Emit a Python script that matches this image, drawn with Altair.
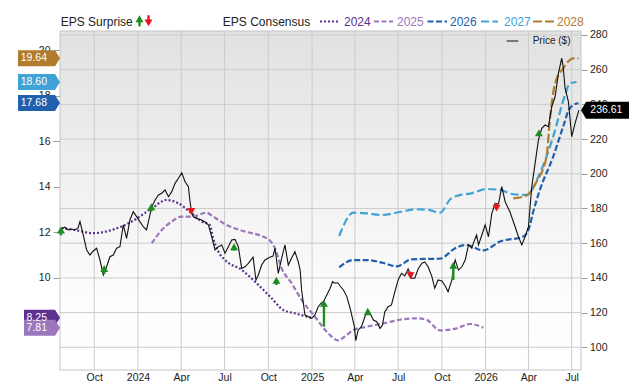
import altair as alt
import pandas as pd

# ---------------- data ----------------
BASE_DATE = "2023-10-01"  # all *_day lists are day offsets from this date

price_day = [-70, -62, -55, -48, -41, -34, -30, -23, -16, -9,
             -2, 5, 12, 19, 26, 33, 40, 47, 54, 61,
             68, 75, 82, 89, 96, 103, 110, 117, 121, 128,
             135, 142, 149, 156, 163, 170, 177, 184, 191, 198,
             201, 205, 208, 215, 226, 233, 240, 247, 254, 261,
             268, 275, 282, 289, 296, 303, 310, 317, 324, 334,
             340, 345, 352, 359, 369, 376, 380, 387, 394, 401,
             408, 415, 422, 429, 433, 436, 443, 450, 457, 464,
             471, 477, 482, 489, 496, 501, 506, 512, 517, 524,
             531, 538, 547, 550, 555, 562, 569, 575, 580, 587,
             594, 601, 606, 611, 618, 625, 632, 639, 646, 653,
             660, 667, 674, 681, 689, 695, 702, 710, 716, 723,
             731, 738, 744, 752, 755, 759, 766, 773, 780, 787,
             794, 797, 804, 808, 815, 822, 829, 836, 843, 850,
             857, 864, 874, 885, 892, 899, 906, 913, 920, 927,
             934, 941, 948, 955, 962, 969, 976, 983, 986, 990,
             997, 1004, 1011, 1019]
price_usd = [168.2, 169.2, 167.6, 168.2, 167.6, 168.8, 172.4, 164.7, 156.1, 153.2,
             155.5, 157.1, 150.3, 141.7, 146.4, 152.2, 153.2, 157.1, 158.0, 170.5,
             162.8, 173.4, 178.1, 175.3, 172.4, 169.5, 167.6, 176.2, 181.0, 184.9,
             187.8, 188.8, 190.7, 186.8, 189.7, 194.5, 197.4, 200.6, 195.4, 192.6,
             184.9, 177.2, 175.3, 174.3, 173.4, 172.2, 170.5, 163.7, 156.1, 158.0,
             159.0, 154.2, 158.0, 161.8, 162.2, 158.0, 145.5, 146.4, 148.4, 151.9,
             138.8, 141.7, 147.4, 150.3, 151.9, 152.6, 157.1, 142.6, 151.3, 159.0,
             147.4, 151.5, 155.1, 149.2, 144.5, 133.0, 118.6, 117.6, 116.7, 118.6,
             123.4, 125.4, 126.3, 130.1, 134.0, 137.8, 136.9, 137.2, 135.3, 133.0,
             129.2, 122.5, 111.9, 103.8, 110.0, 111.9, 117.6, 121.9, 119.6, 115.7,
             114.7, 110.9, 112.8, 120.5, 123.4, 124.4, 131.9, 138.8, 142.6, 141.1,
             145.1, 139.8, 139.8, 145.1, 148.4, 149.2, 146.4, 140.7, 134.0, 138.8,
             138.2, 135.3, 132.0, 138.8, 145.5, 150.3, 144.5, 146.4, 150.3, 159.0,
             157.1, 159.9, 164.7, 159.0, 164.7, 170.5, 163.7, 177.2, 183.0, 182.6,
             192.6, 183.9, 178.1, 169.5, 163.7, 159.0, 163.7, 169.5, 192.6, 206.0,
             219.5, 226.2, 228.1, 227.1, 238.7, 244.4, 257.9, 266.6, 261.7, 249.3,
             241.6, 221.4, 229.1, 236.61]
assert len(price_day) == len(price_usd)

eps2024_day = [-69, -41, -2, 37, 79, 121, 152, 177, 205, 226, 243, 250, 261, 275,
               310, 338, 373, 397, 422, 443, 456]
eps2024 = [12.18, 12.10, 11.96, 12.10, 12.47, 13.05, 13.42, 13.27, 12.83, 12.47, 12.32,
           11.74, 11.15, 10.78, 10.35, 9.83, 9.10, 8.59, 8.44, 8.32, 8.25]

eps2025_day = [121, 142, 163, 184, 208, 236, 250, 278, 306, 366, 380, 394, 415, 436,
               464, 492, 513, 527, 545, 573, 608, 650, 678, 699, 727, 762, 790, 818]
eps2025 = [11.52, 12.10, 12.47, 12.69, 12.69, 12.86, 12.69, 12.32, 12.10, 11.69, 11.30,
           10.42, 9.76, 9.03, 8.29, 7.56, 7.25, 7.42, 7.71, 7.85, 8.00, 8.18, 8.22, 8.15,
           7.69, 7.78, 7.97, 7.81]

eps2026_day = [515, 545, 573, 608, 636, 667, 699, 727, 759, 783, 818, 853, 902, 913,
               923, 937, 965, 986, 1000, 1018]
eps2026 = [10.46, 10.78, 10.78, 10.65, 10.50, 10.81, 10.83, 10.84, 11.30, 11.44, 11.20,
           11.59, 11.81, 12.10, 12.90, 13.86, 15.32, 16.64, 17.45, 17.68]

eps2027_day = [515, 545, 573, 604, 645, 675, 703, 727, 749, 770, 791, 825, 853, 881,
               909, 937, 965, 990, 1000, 1014]
eps2027 = [11.84, 12.86, 12.83, 12.76, 12.90, 13.01, 12.98, 12.86, 13.46, 13.64, 13.70,
           13.90, 13.86, 13.67, 13.64, 14.59, 16.20, 18.03, 18.54, 18.60]

eps2028_day = [881, 909, 930, 951, 958, 969, 986, 1007, 1018]
eps2028 = [13.49, 13.61, 14.22, 15.32, 16.93, 18.54, 19.20, 19.64, 19.64]

surprise_day = [-70, 21, 120, 204, 294, 383, 483, 575, 665, 755, 846, 935]
surprise_dir = ["up", "up", "up", "down", "up", "up", "up", "up", "down", "up", "down", "up"]
surprise_top = [169.6, 147.4, 183.0, 180.1, 160.0, 140.7, 127.3, 122.5, 143.6, 149.3, 183.0, 225.6]
surprise_bottom = [164.5, 142.2, 178.2, 176.2, 155.7, 135.9, 111.9, 118.6, 139.2, 138.8, 178.2, 221.8]

years = ["2024", "2025", "2026", "2027", "2028"]
year_colors = ["#5d3190", "#9c77bb", "#2160ad", "#3fa3d5", "#b27c2e"]
year_dash = [[2, 2], [5, 2.5], [6, 2.5], [8, 3.5], [9, 3]]
eps_days = [eps2024_day, eps2025_day, eps2026_day, eps2027_day, eps2028_day]
eps_vals = [eps2024, eps2025, eps2026, eps2027, eps2028]

tag_labels = ["19.64", "18.60", "17.68", "8.25", "7.81"]
tag_values = [19.64, 18.60, 17.68, 8.25, 7.81]
tag_colors = ["#b27c2e", "#3fa3d5", "#2160ad", "#5d3190", "#9c77bb"]
last_price = 236.61
last_price_label = "236.61"

quarter_ticks = ["2023-10-01", "2024-01-01", "2024-04-01", "2024-07-01", "2024-10-01",
                 "2025-01-01", "2025-04-01", "2025-07-01", "2025-10-01", "2026-01-01",
                 "2026-04-01", "2026-07-01"]
price_ticks = [100, 120, 140, 160, 180, 200, 220, 240, 260, 280]
eps_ticks = [10, 12, 14, 16, 18, 20]

# ---------------- layout / style ----------------
FONT = "Liberation Sans"
W, H = 521, 339
GREEN = "#1e8c1e"
RED = "#e8151b"
GRID = "#cccccc"
LEG_Y = -9.5


def to_dates(days):
    return pd.Timestamp(BASE_DATE) + pd.to_timedelta(days, unit="D")


x_scale = alt.Scale(domain=[alt.DateTime(year=2023, month=7, date=21),
                            alt.DateTime(year=2026, month=7, date=20, hours=12)], nice=False)
x_axis = alt.Axis(values=[alt.DateTime(year=int(d[:4]), month=int(d[5:7]), date=1) for d in quarter_ticks],
                  labelExpr="month(datum.value) == 0 ? timeFormat(datum.value, '%Y') : timeFormat(datum.value, '%b')",
                  ticks=False, domain=False, grid=False, labelPadding=2, labelFontSize=10.5,
                  labelColor="#222222", labelOverlap=False)


def xe():
    return alt.X("date:T", scale=x_scale, axis=x_axis, title=None)


eps_scale = alt.Scale(domain=[5.95, 20.84], nice=False, zero=False)
eps_axis = alt.Axis(orient="left", values=eps_ticks, grid=False, domain=False, tickSize=7,
                    tickColor="#9a9a9a", labelPadding=3, labelFontSize=10.5,
                    labelColor="#222222", labelOverlap=False)


def ye(field):
    return alt.Y(f"{field}:Q", scale=eps_scale, axis=eps_axis, title=None)


price_scale = alt.Scale(domain=[86.9, 282.3], nice=False, zero=False)
price_axis = alt.Axis(orient="right", values=price_ticks, grid=False, domain=False, tickSize=6,
                      tickColor="#9a9a9a", labelPadding=2.5, labelFontSize=10.5,
                      labelColor="#222222", labelOverlap=False)


def yp(field):
    return alt.Y(f"{field}:Q", scale=price_scale, axis=price_axis, title=None)


one = pd.DataFrame({"k": [0]})

# background with gradient + frame
gradient = alt.Gradient(gradient="linear",
                        stops=[alt.GradientStop(color="#e1e1e1", offset=0),
                               alt.GradientStop(color="#fdfdfd", offset=0.8),
                               alt.GradientStop(color="#ffffff", offset=1)],
                        x1=0, x2=0, y1=0, y2=1)
bg = alt.Chart(one).mark_rect(fill=gradient, stroke="#c4c4c4", strokeWidth=1).encode(
    x=alt.value(0), x2=alt.value(W), y=alt.value(0), y2=alt.value(H))

vgrid = alt.Chart(pd.DataFrame({"date": pd.to_datetime(quarter_ticks)})).mark_rule(
    color=GRID, strokeWidth=1).encode(x=xe())
hgrid = alt.Chart(pd.DataFrame({"price": price_ticks})).mark_rule(
    color=GRID, strokeWidth=1).encode(y=alt.Y("price:Q", scale=price_scale, axis=None))

# EPS consensus lines (left axis)
eps_layers = []
for yr, days, vals, col, dash in zip(years, eps_days, eps_vals, year_colors, year_dash):
    df = pd.DataFrame({"date": to_dates(days), "eps": vals})
    eps_layers.append(alt.Chart(df).mark_line(color=col, strokeDash=dash, strokeWidth=2.2,
                                              interpolate="monotone").encode(x=xe(), y=ye("eps")))

LONG_TAG = "M-1,-0.381L0.762,-0.381L1,0L0.762,0.381L-1,0.381Z"
SHORT_TAG = "M-0.714,-0.381L0.762,-0.381L1,0L0.762,0.381L-0.714,0.381Z"
tag_df = pd.DataFrame({"eps": tag_values, "label": tag_labels, "color": tag_colors})
tag_df["shape"] = [LONG_TAG if len(s) > 4 else SHORT_TAG for s in tag_labels]
tags = alt.Chart(tag_df).mark_point(filled=True, size=1764, opacity=1, strokeWidth=0).encode(
    x=alt.value(-21), y=ye("eps"),
    color=alt.Color("color:N", scale=None), shape=alt.Shape("shape:N", scale=None))
tag_text = alt.Chart(tag_df).mark_text(align="right", baseline="middle", color="white",
                                       fontSize=10.5).encode(
    x=alt.value(-13), y=ye("eps"), text="label:N")

eps_group = alt.layer(*eps_layers, tags, tag_text)

# price (right axis)
price_df = pd.DataFrame({"date": to_dates(price_day), "price": price_usd})
price_line = alt.Chart(price_df).mark_line(color="#111111", strokeWidth=1.1).encode(
    x=xe(), y=yp("price"))

sur_df = pd.DataFrame({"date": to_dates(surprise_day), "dir": surprise_dir,
                       "top": surprise_top, "bottom": surprise_bottom})
up_df = sur_df[sur_df["dir"] == "up"]
down_df = sur_df[sur_df["dir"] == "down"]
up_stem = alt.Chart(up_df).mark_rule(color=GREEN, strokeWidth=2.4, yOffset=4).encode(
    x=xe(), y=yp("top"), y2="bottom:Q")
up_head = alt.Chart(up_df).mark_point(shape="triangle-up", filled=True, size=64, opacity=1,
                                      color=GREEN, yOffset=3.5).encode(x=xe(), y=yp("top"))
down_stem = alt.Chart(down_df).mark_rule(color=RED, strokeWidth=2.4, y2Offset=-4).encode(
    x=xe(), y=yp("top"), y2="bottom:Q")
down_head = alt.Chart(down_df).mark_point(shape="triangle-down", filled=True, size=64, opacity=1,
                                          color=RED, yOffset=-3.5).encode(x=xe(), y=yp("bottom"))

PRICE_TAG = "M-1,0L-0.79,-0.354L1,-0.354L1,0.354L-0.79,0.354Z"
ptag_df = pd.DataFrame({"price": [last_price], "label": [last_price_label]})
ptag = alt.Chart(ptag_df).mark_point(shape=PRICE_TAG, filled=True, size=2304, opacity=1,
                                     color="#000000", strokeWidth=0).encode(
    x=alt.value(W + 24), y=yp("price"))
ptag_text = alt.Chart(ptag_df).mark_text(align="left", baseline="middle", color="white",
                                         fontSize=10.5).encode(
    x=alt.value(W + 9.3), y=yp("price"), text="label:N")

price_group = alt.layer(price_line, up_stem, up_head, down_stem, down_head, ptag, ptag_text)

# legends
legend_layers = []
legend_layers.append(alt.Chart(pd.DataFrame({"t": ["EPS Surprise"]})).mark_text(
    align="left", baseline="middle", fontSize=12, color="#222222").encode(
    x=alt.value(0.7), y=alt.value(LEG_Y), text="t:N"))
legend_layers.append(alt.Chart(one).mark_rule(color=GREEN, strokeWidth=2.4).encode(
    x=alt.value(79.5), y=alt.value(-11.5), y2=alt.value(-4.6)))
legend_layers.append(alt.Chart(one).mark_point(shape="triangle-up", filled=True, size=64,
                                               opacity=1, color=GREEN).encode(
    x=alt.value(79.5), y=alt.value(-12.2)))
legend_layers.append(alt.Chart(one).mark_rule(color=RED, strokeWidth=2.4).encode(
    x=alt.value(88.5), y=alt.value(-15.7), y2=alt.value(-8.8)))
legend_layers.append(alt.Chart(one).mark_point(shape="triangle-down", filled=True, size=64,
                                               opacity=1, color=RED).encode(
    x=alt.value(88.5), y=alt.value(-8.1)))
legend_layers.append(alt.Chart(pd.DataFrame({"t": ["EPS Consensus"]})).mark_text(
    align="left", baseline="middle", fontSize=12, color="#222222").encode(
    x=alt.value(162.8), y=alt.value(LEG_Y), text="t:N"))

sample_x0 = [260, 314, 367.5, 421, 473]
sample_x1 = [279, 333, 387, 438, 494]
label_x = [284, 337, 390, 444, 497]
for yr, col, dash, a, b, tx in zip(years, year_colors, year_dash, sample_x0, sample_x1, label_x):
    legend_layers.append(alt.Chart(one).mark_rule(color=col, strokeDash=dash, strokeWidth=2.2).encode(
        x=alt.value(a), x2=alt.value(b), y=alt.value(LEG_Y)))
    legend_layers.append(alt.Chart(pd.DataFrame({"t": [yr]})).mark_text(
        align="left", baseline="middle", fontSize=12, color=col).encode(
        x=alt.value(tx), y=alt.value(LEG_Y), text="t:N"))

legend_layers.append(alt.Chart(one).mark_rule(color="#777777", strokeWidth=2).encode(
    x=alt.value(446.7), x2=alt.value(458.3), y=alt.value(10)))
legend_layers.append(alt.Chart(pd.DataFrame({"t": ["Price ($)"]})).mark_text(
    align="left", baseline="middle", fontSize=10, color="#222222").encode(
    x=alt.value(472.7), y=alt.value(10), text="t:N"))

chart = alt.layer(bg, vgrid, hgrid, eps_group, price_group, *legend_layers).resolve_scale(
    y="independent"
).properties(
    width=W, height=H,
    autosize=alt.AutoSizeParams(type="none"),
    padding={"left": 60, "top": 31, "right": 59, "bottom": 12},
).configure(font=FONT).configure_view(strokeWidth=0)

chart.save("out.html", embed_options={"renderer": "svg", "actions": False})
